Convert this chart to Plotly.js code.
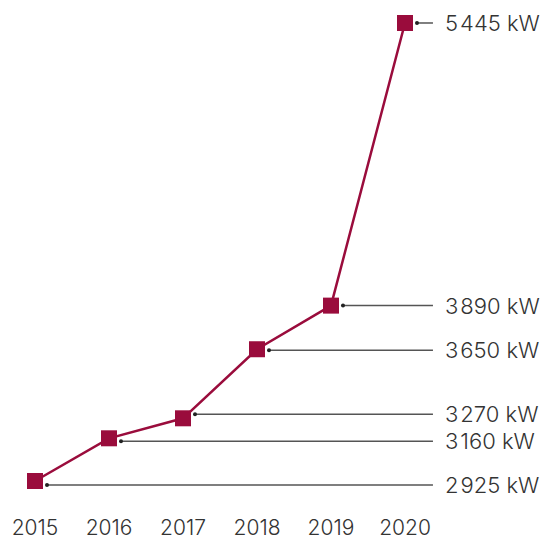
<!DOCTYPE html>
<html><head><meta charset="utf-8">
<script src="https://cdn.plot.ly/plotly-3.0.1.min.js"></script>
<style>html,body{margin:0;padding:0;background:#fff}</style>
</head><body><div id="chart" style="width:543px;height:542px"></div>
<script>
const years = [2015, 2016, 2017, 2018, 2019, 2020];
const values = [2925, 3160, 3270, 3650, 3890, 5445];
const labels = ['2\u200A925 kW', '3\u200A160 kW', '3\u200A270 kW', '3\u200A650 kW', '3\u200A890 kW', '5\u200A445 kW'];
const tickText = ['2015', '2016', '2017', '2018', '2019', '2020'];

const RED = '#9a0c3c';
const TEXT = '#333333';
const FONT = 'Inter, "Noto Sans", sans-serif';
const labelShift = [-4, -3, 4, -1, 0, 0]; // px nudges to keep labels apart
const lineEnd = 2020.378;
const labelX = 2020.51;

const shapes = [];
const annotations = [];
years.forEach((yr, i) => {
  shapes.push({type:'line', xref:'x', yref:'y', ysizemode:'pixel', yanchor: values[i],
    x0: yr + 0.165, x1: lineEnd, y0: labelShift[i], y1: labelShift[i],
    line:{color:'#555555', width:1.5}, layer:'below'});
  shapes.push({type:'circle', xref:'x', yref:'y', xsizemode:'pixel', ysizemode:'pixel',
    xanchor: yr, yanchor: values[i], x0: 10, x1: 14, y0: labelShift[i]-2, y1: labelShift[i]+2,
    fillcolor:'#222222', line:{width:0}});
  annotations.push({x: labelX, y: values[i], xref:'x', yref:'y', yshift: labelShift[i],
    text: labels[i], showarrow:false, xanchor:'left', yanchor:'middle',
    font:{family:FONT, size:22, color:TEXT, weight:300}});
});

const trace = {x: years, y: values, type:'scatter', mode:'lines+markers',
  line:{color:RED, width:2.5}, marker:{symbol:'square', size:16, color:RED},
  hoverinfo:'none'};

const layout = {
  width:543, height:542,
  margin:{l:0, r:0, t:0, b:42},
  paper_bgcolor:'#fff', plot_bgcolor:'#fff',
  showlegend:false,
  xaxis:{range:[2014.527, 2021.865], tickvals: years, ticktext: tickText,
    showgrid:false, zeroline:false, showline:false, ticks:'', ticklabelstandoff:13,
    tickfont:{family:FONT, size:21, color:TEXT, weight:300}},
  yaxis:{range:[2820.5, 5571.5], showgrid:false, zeroline:false, showline:false,
    showticklabels:false, ticks:''},
  shapes, annotations
};
Plotly.newPlot('chart', [trace], layout, {displayModeBar:false, staticPlot:true});
</script></body></html>
